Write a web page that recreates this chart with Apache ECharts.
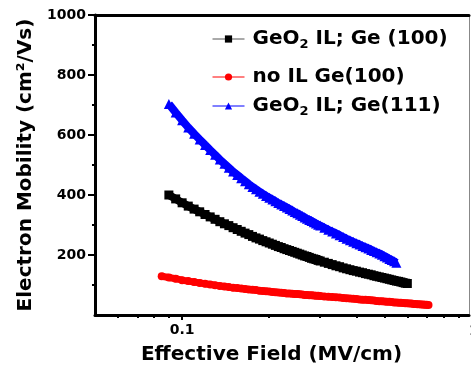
<!DOCTYPE html>
<html>
<head>
<meta charset="utf-8">
<script src="https://cdn.jsdelivr.net/npm/echarts@6/dist/echarts.min.js"></script>
<style>
  html, body { margin: 0; padding: 0; background: #fff; }
  #chart { width: 471px; height: 375px; }
</style>
</head>
<body>
<div id="chart"></div>
<script>
// effective field grid (MV/cm), shared by the three curves
const fieldGrid = [
  0.085, 0.09, 0.095, 0.10, 0.105, 0.11, 0.115, 0.12, 0.125, 0.13, 0.135,
  0.14, 0.145, 0.15, 0.155, 0.16, 0.165, 0.17, 0.175,
  0.18, 0.185, 0.19, 0.195, 0.20, 0.205, 0.21, 0.215,
  0.22, 0.225, 0.23, 0.235, 0.24, 0.245, 0.25, 0.255, 0.26, 0.265, 0.27, 0.275, 0.28,
  0.285, 0.29, 0.295, 0.30,
  0.31, 0.32, 0.33, 0.34, 0.35, 0.36, 0.37,
  0.38, 0.39, 0.40, 0.41, 0.42, 0.43, 0.44, 0.45, 0.46, 0.47, 0.48,
  0.49, 0.50, 0.51, 0.52, 0.53, 0.54, 0.55, 0.56, 0.57, 0.58, 0.59, 0.60,
  0.61, 0.62, 0.63, 0.64, 0.65, 0.66, 0.67, 0.68, 0.69, 0.70, 0.71
];

// mobility (cm2/Vs), aligned with fieldGrid
const geo2Ge100 = [
  null,
  400, 387, 374, 363, 353, 344, 335, 327, 319, 311,
  304, 298, 291, 285, 279, 273, 268, 262,
  257, 253, 248, 244, 240, 236, 232, 228,
  225, 221, 218, 215, 212, 209, 206, 203, 200, 197, 195, 192, 189,
  187, 185, 182, 180,
  176, 172, 168, 164, 161, 157, 154,
  151, 148, 146, 143, 141, 138, 136, 134, 131, 129, 127,
  125, 123, 121, 119, 117, 115, 113, 112, 110, 108, 106, 105
];
const noIlGe100 = [
  129, 125, 121, 116, 113, 110, 107, 104, 102, 99, 97,
  95, 93, 91, 90, 88, 87, 85, 84,
  83, 81, 80, 79, 78, 77, 76, 75,
  74, 73, 72, 72, 71, 70, 70, 69, 68, 67, 67, 66, 66,
  65, 64, 64, 63,
  62, 61, 60, 59, 58, 57, 56,
  55, 54, 53, 52, 51, 51, 50, 49, 48, 47, 46,
  46, 45, 44, 44, 43, 42, 42, 41, 41, 40, 39, 39,
  38, 38, 37, 37, 36, 36, 35, 35, 34, 34, 33
];
const geo2Ge111 = [
  null,
  703, 675, 649, 625, 604, 585, 567, 550, 534, 518,
  504, 491, 478, 467, 456, 446, 436, 427,
  419, 411, 404, 397, 391, 385, 379, 373,
  368, 363, 358, 353, 348, 343, 339, 334, 330, 325, 321, 317, 313,
  309, 305, 301, 298,
  291, 284, 278, 272, 266, 260, 254,
  249, 244, 239, 235, 230, 226, 222, 217, 213, 209, 205,
  201, 196, 192, 187, 183, 179, 174
];

const seriesNames = ['GeO2 IL; Ge (100)', 'no IL Ge(100)', 'GeO2 IL; Ge(111)'];
const seriesColors = ['#000000', '#ff0000', '#0000ff'];

const xTickLabels = [0.1];
const xMinorTicks = [0.06, 0.07, 0.08, 0.09, 0.2, 0.3, 0.4, 0.5, 0.6, 0.7, 0.8, 0.9];
const yTickLabels = [200, 400, 600, 800, 1000];
const yMinorTicks = [100, 300, 500, 700, 900];

const FONT = 'DejaVu Sans';

const toPairs = vals => fieldGrid
  .map((e, i) => [e, vals[i]])
  .filter(p => p[1] != null);

const chart = echarts.init(document.getElementById('chart'));

const legendText = {
  fontFamily: FONT,
  fontWeight: 'bold',
  fontSize: 20,
  lineHeight: 24,
  color: '#000',
  padding: [0, 0, 0, 3],
  rich: {
    s: { fontFamily: FONT, fontWeight: 'bold', fontSize: 13, lineHeight: 13, verticalAlign: 'bottom', color: '#000' }
  }
};
const legendFormatter = name => name.replace('GeO2', 'GeO{s|2}');

// one legend per row so each row can sit where the reference has it
function makeLegend(name, top, lineColor) {
  return {
    data: [name],
    left: 212,
    top: top,
    padding: 0,
    orient: 'vertical',
    itemWidth: 32,
    itemHeight: 9,
    lineStyle: { width: 1, color: lineColor },
    formatter: legendFormatter,
    textStyle: legendText
  };
}

// markers sit on a thick line of the same colour, so the dense points read as one band
function makeSeries(idx, vals, symbol, size, bandWidth) {
  return {
    name: seriesNames[idx],
    type: 'line',
    data: toPairs(vals),
    symbol: symbol,
    symbolSize: size,
    showAllSymbol: true,
    itemStyle: { color: seriesColors[idx] },
    lineStyle: { color: seriesColors[idx], width: bandWidth }
  };
}

const option = {
  animation: false,
  backgroundColor: '#fff',
  grid: { left: 95, right: 2, top: 15, bottom: 60 },
  legend: [
    makeLegend(seriesNames[0], 27, '#555'),
    makeLegend(seriesNames[1], 65, '#ff0000'),
    makeLegend(seriesNames[2], 94, '#0000ff')
  ],
  xAxis: [
    {
      type: 'log',
      min: 0.05,
      max: 0.98,
      position: 'bottom',
      axisLine: { onZero: false, lineStyle: { color: '#000', width: 3 } },
      axisTick: { customValues: xTickLabels, length: 5, lineStyle: { color: '#000', width: 2 } },
      axisLabel: {
        customValues: xTickLabels,
        margin: 8,
        fontFamily: FONT, fontWeight: 'bold', fontSize: 14, color: '#000',
        formatter: v => String(v)
      },
      splitLine: { show: false },
      name: 'Effective Field (MV/cm)',
      nameLocation: 'middle',
      nameGap: 30,
      nameTextStyle: { fontFamily: FONT, fontWeight: 'bold', fontSize: 20, color: '#000', padding: [0, 21, 0, 0] }
    },
    {
      // minor ticks
      type: 'log',
      min: 0.05,
      max: 0.98,
      position: 'bottom',
      axisLine: { show: false, onZero: false },
      axisTick: { customValues: xMinorTicks, length: 3, lineStyle: { color: '#000', width: 2 } },
      axisLabel: { show: false },
      splitLine: { show: false }
    },
    {
      // top frame
      type: 'log',
      min: 0.05,
      max: 0.98,
      position: 'top',
      axisLine: { onZero: false, lineStyle: { color: '#000', width: 3 } },
      axisTick: { show: false },
      axisLabel: { show: false },
      splitLine: { show: false }
    }
  ],
  yAxis: [
    {
      type: 'value',
      min: 0,
      max: 1000,
      position: 'left',
      axisLine: { show: true, onZero: false, lineStyle: { color: '#000', width: 3 } },
      axisTick: { show: true, customValues: yTickLabels, length: 7, lineStyle: { color: '#000', width: 2 } },
      axisLabel: {
        customValues: yTickLabels,
        margin: 9,
        fontFamily: FONT, fontWeight: 'bold', fontSize: 14, color: '#000',
        formatter: v => String(v)
      },
      splitLine: { show: false },
      name: 'Electron Mobility (cm\u00b2/Vs)',
      nameLocation: 'middle',
      nameGap: 58,
      nameTextStyle: { fontFamily: FONT, fontWeight: 'bold', fontSize: 20, color: '#000' }
    },
    {
      // minor ticks
      type: 'value',
      min: 0,
      max: 1000,
      position: 'left',
      axisLine: { show: false, onZero: false },
      axisTick: { show: true, customValues: yMinorTicks, length: 3, lineStyle: { color: '#000', width: 2 } },
      axisLabel: { show: false },
      splitLine: { show: false }
    },
    {
      // right frame
      type: 'value',
      min: 0,
      max: 1000,
      position: 'right',
      axisLine: { show: true, onZero: false, lineStyle: { color: '#888', width: 1 } },
      axisTick: { show: false },
      axisLabel: { show: false },
      splitLine: { show: false }
    }
  ],
  graphic: [
    {
      type: 'text',
      left: 469,
      top: 324,
      style: { text: '1', font: 'bold 14px "DejaVu Sans"', fill: '#000' }
    }
  ],
  series: [
    makeSeries(0, geo2Ge100, 'rect', 9, 8),
    makeSeries(1, noIlGe100, 'circle', 8, 7),
    makeSeries(2, geo2Ge111, 'triangle', 10, 8)
  ]
};

chart.setOption(option);
</script>
</body>
</html>
